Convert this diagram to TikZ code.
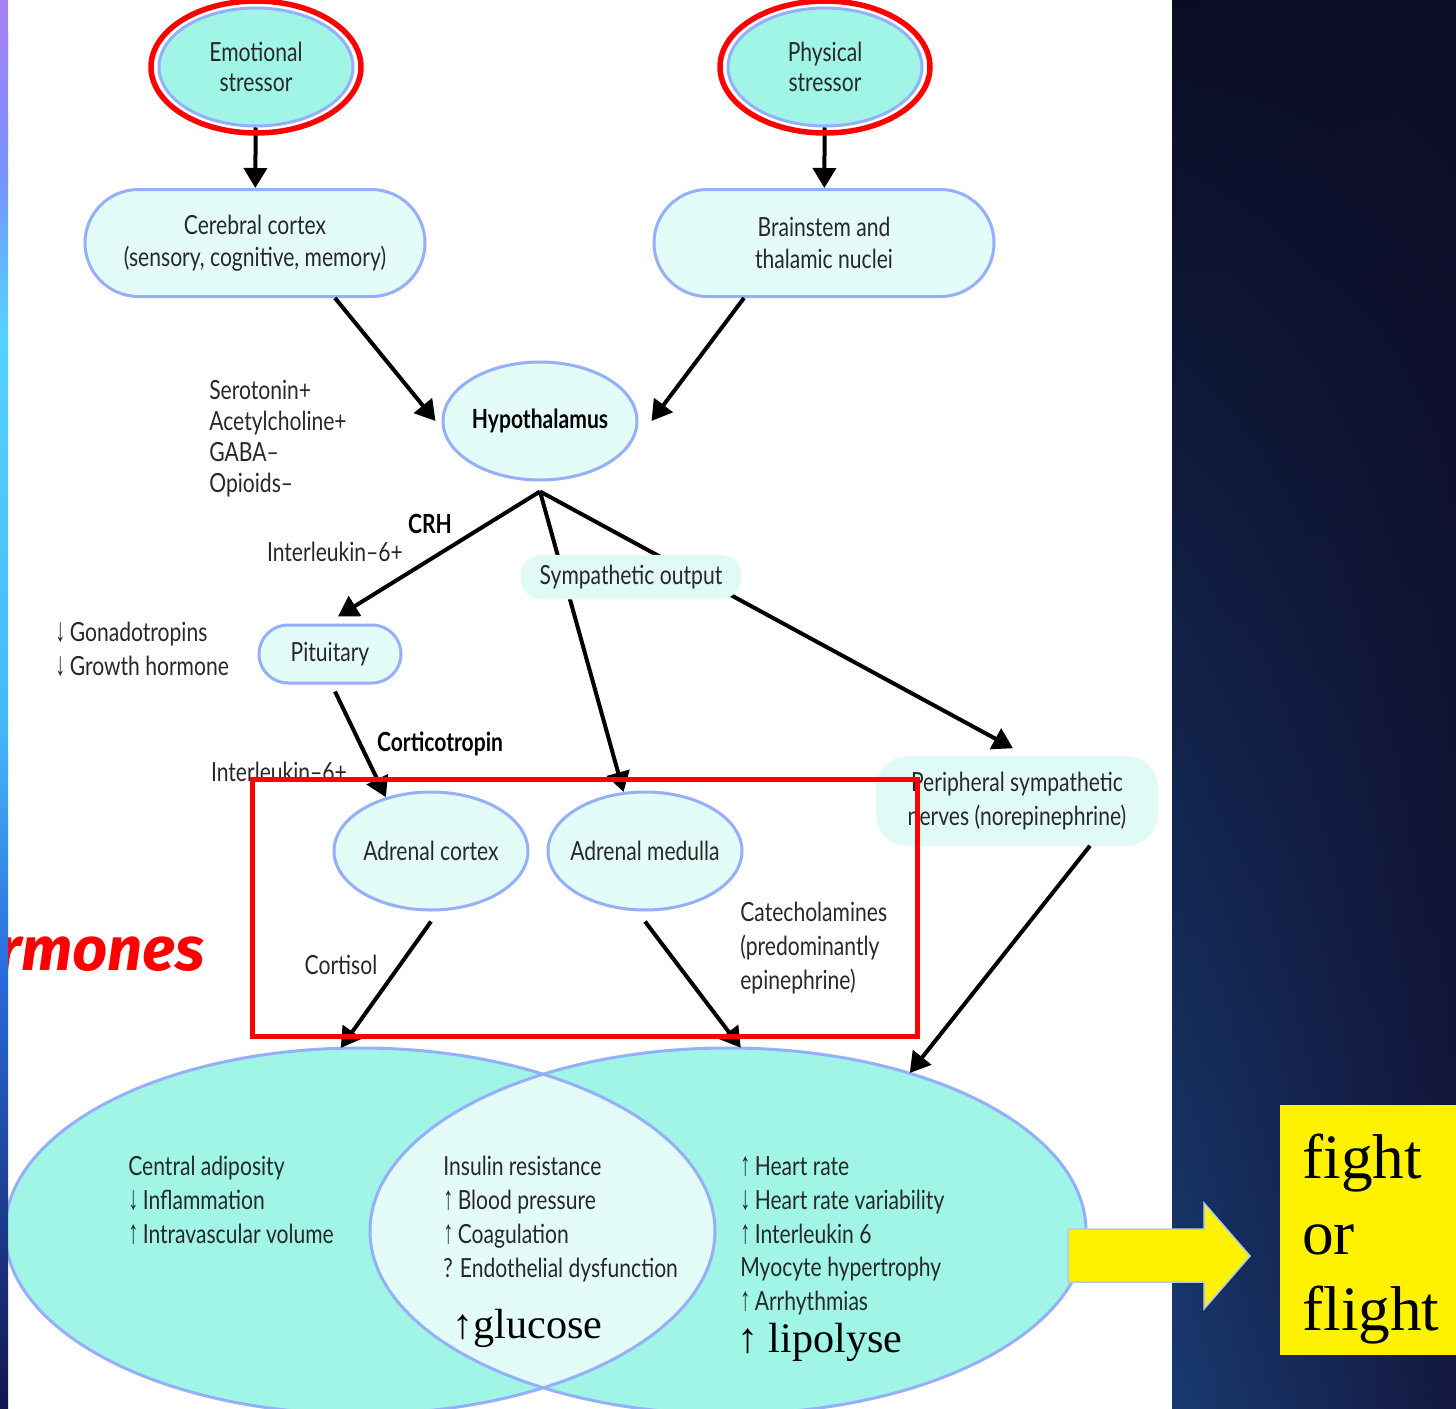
\documentclass[tikz,border=0pt]{standalone}
\usepackage{fontspec}
\setmainfont{Lato}[FakeStretch=0.8]
\newfontfamily\arrowfont{Liberation Sans}[FakeStretch=0.6]
\newfontfamily\timesfont{Liberation Serif}
\newfontfamily\slidefont{Fira Sans}
\usetikzlibrary{shapes,arrows.meta,positioning,shadings}

\definecolor{aqua}{RGB}{160,245,230}
\definecolor{paleaqua}{RGB}{227,252,248}
\definecolor{nodeblue}{RGB}{150,175,250}
\definecolor{inkgray}{RGB}{40,40,40}
\definecolor{sympfill}{RGB}{224,250,245}
\definecolor{arrowedge}{RGB}{175,205,240}
\definecolor{spacetop}{RGB}{11,12,36}
\definecolor{spacetopright}{RGB}{12,12,38}
\definecolor{spacelowleft}{RGB}{24,58,112}
\definecolor{spacelowright}{RGB}{20,24,62}
\definecolor{strippurple}{RGB}{168,128,245}
\definecolor{striplilac}{RGB}{120,145,250}
\definecolor{stripcyan}{RGB}{85,210,255}
\definecolor{stripsky}{RGB}{70,185,250}
\definecolor{stripblue}{RGB}{40,105,220}
\definecolor{stripnavy}{RGB}{18,22,75}

\newcommand{\lancetsize}{\fontsize{15pt}{19.3pt}\selectfont}
\newcommand{\arrup}{{\arrowfont\fontsize{19pt}{19.3pt}\selectfont ↑}\,}
\newcommand{\arrdown}{{\arrowfont\fontsize{19pt}{19.3pt}\selectfont ↓}\,}

\begin{document}
\begin{tikzpicture}[
    x=0.2mm, y=-0.2mm,
    font=\lancetsize,
    every node/.style={text=inkgray},
    stressor/.style={
        ellipse, draw=nodeblue, line width=0.6mm, fill=aqua,
        minimum width=38.8mm, minimum height=23.6mm,
        inner xsep=-5mm, inner ysep=0pt, align=center,
        font=\fontsize{15pt}{17pt}\selectfont
    },
    organ/.style={stressor, fill=paleaqua},
    centre/.style={
        rectangle, rounded corners=10.7mm, draw=nodeblue, line width=0.6mm,
        fill=paleaqua, minimum width=68mm, minimum height=21.4mm, align=center,
        font=\fontsize{15pt}{18.1pt}\selectfont
    },
    relay/.style={rectangle, draw=sympfill, line width=0.5mm, fill=sympfill, align=center},
    ring/.style={draw=red, line width=1.1mm},
    redbox/.style={draw=red, line width=1mm},
    flow/.style={line width=0.8mm, -{Triangle[length=4mm,width=4.6mm]}},
    note/.style={inner sep=0pt, align=left, anchor=north west},
    big/.style={font=\timesfont\fontsize{24pt}{28pt}\selectfont, text=black, inner sep=0pt},
    body/.style={ellipse, fill=aqua, minimum height=73.2mm}
    ]

    \useasboundingbox (0,0) rectangle (1456,1409);
    \fill[white] (0,0) rectangle (1456,1409);
    \shade[upper left=spacetop, upper right=spacetopright,
           lower left=spacelowleft, lower right=spacelowright] (1172,0) rectangle (1456,1409);

    % venn of the effects
    \node[body, minimum width=142mm] (bodyL) at (360,1231) {};
    \node[body, minimum width=143.2mm] (bodyR) at (728,1231) {};
    \begin{scope}
        \clip (bodyL.center) ellipse [x radius=71mm, y radius=36.6mm];
        \fill[paleaqua] (bodyR.center) ellipse [x radius=71.6mm, y radius=36.6mm];
    \end{scope}
    \draw[nodeblue, line width=0.6mm] (bodyL.center) ellipse [x radius=71mm, y radius=36.6mm];
    \draw[nodeblue, line width=0.6mm] (bodyR.center) ellipse [x radius=71.6mm, y radius=36.6mm];

    \node[stressor] (emotional) at (256,67) {Emotional\\stressor};
    \node[stressor] (physical) at (825,67) {Physical\\stressor};
    \node[centre] (cerebral) at (255,243) {Cerebral cortex\\(sensory, cognitive, memory)};
    \node[centre] (brainstem) at (824,243) {Brainstem and\\thalamic nuclei};
    \node[organ, font=\lancetsize\bfseries, text=black] (hypo) at (540,421) {Hypothalamus};
    \coordinate (hypotip) at ([yshift=-2mm]hypo.south);
    \node[centre, minimum width=28.4mm, minimum height=11.6mm, rounded corners=5.8mm] (pituitary) at (330,654) {Pituitary};
    \node[organ] (cortex) at (431,851) {Adrenal cortex};
    \node[organ] (medulla) at (645,851) {Adrenal medulla};
    \node[relay, rounded corners=6mm, minimum width=55.8mm, minimum height=17.4mm] (nerves) at (1017,801) {Peripheral sympathetic\\nerves (norepinephrine)};

    \draw[flow] (emotional) -- (cerebral);
    \draw[flow] (physical) -- (brainstem);
    \draw[ring] (emotional.center) ellipse [x radius=21mm, y radius=13.2mm];
    \draw[ring] (physical.center) ellipse [x radius=21mm, y radius=13.2mm];
    \draw[flow] ([xshift=16mm]cerebral.south) -- ([xshift=-1.2mm]hypo.west);
    \draw[flow] ([xshift=-16mm]brainstem.south) -- ([xshift=2.6mm]hypo.east);
    \draw[flow] (hypotip) -- ([xshift=1.6mm, yshift=1.4mm]pituitary.north);
    \draw[flow] (hypotip) -- (medulla.110);
    \draw[flow] (hypotip) -- ([xshift=-0.8mm, yshift=1.6mm]nerves.north);
    \node[relay, rounded corners=4mm, minimum width=43.6mm, minimum height=8.4mm] (symp) at (631,577) {Sympathetic output};
    \draw[flow] ([xshift=1mm, yshift=-1.4mm]pituitary.south) -- (cortex.130);
    \draw[flow] ([yshift=-2mm]cortex.south) -- (bodyL.96);
    \draw[flow] ([yshift=-2mm]medulla.south) -- (bodyR.86);
    \draw[flow] ([xshift=14.6mm]nerves.south) -- (bodyR.41);

    % labels
    \node[note, font=\fontsize{15pt}{17.6pt}\selectfont] (transmitters) at (209,380) {Serotonin+\\Acetylcholine+\\GABA–\\Opioids–};
    \node[font=\lancetsize\bfseries, text=black] (crh) at (430,524) {CRH};
    \node (ilupper) at (335,552) {Interleukin–6+};
    \node[note] (pituitaryfx) at (55,622) {\arrdown Gonadotropins\\\arrdown Growth hormone};
    \node[font=\lancetsize\bfseries, text=black] (corticotropin) at (440,744) {Corticotropin};
    \node (illower) at (279,772) {Interleukin–6+};
    \node (cortisol) at (341,965) {Cortisol};
    \node[note] (catechol) at (740,902) {Catecholamines\\(predominantly\\epinephrine)};

    \node[note] (cortisolfx) at (128,1156) {Central adiposity\\\arrdown Inflammation\\\arrup Intravascular volume};
    \node[note] (sharedfx) at (443,1156) {Insulin resistance\\\arrup Blood pressure\\\arrup Coagulation\\? Endothelial dysfunction};
    \node[note] (catecholfx) at (740,1156) {\arrup Heart rate\\\arrdown Heart rate variability\\\arrup Interleukin 6\\Myocyte hypertrophy\\\arrup Arrhythmias};
    \node[big, anchor=base west] (glucose) at (452,1338) {↑glucose};
    \node[big, anchor=base west] (lipolyse) at (737,1352) {↑ lipolyse};

    \draw[redbox] (252,779) rectangle (917,1036);
    \node[font=\slidefont\fontsize{35pt}{40pt}\selectfont\bfseries\itshape, text=red, anchor=base east, inner sep=0pt] (hormones) at (205,970) {rmones};

    % slide edge
    \shade[top color=strippurple, bottom color=striplilac] (0,0) rectangle (8,170);
    \shade[top color=striplilac, bottom color=stripcyan] (0,170) rectangle (8,330);
    \shade[top color=stripcyan, bottom color=stripsky] (0,330) rectangle (8,720);
    \shade[top color=stripsky, bottom color=stripblue] (0,720) rectangle (8,980);
    \shade[top color=stripblue, bottom color=stripnavy] (0,980) rectangle (8,1409);

    % fight or flight
    \fill[yellow, draw=arrowedge, line width=0.3mm] (1068,1229) -- (1204,1229) -- (1204,1203) -- (1250,1256)
        -- (1204,1309) -- (1204,1282) -- (1068,1282) -- cycle;
    \node[fill=yellow, anchor=north west, minimum width=35.2mm, minimum height=50mm, inner sep=0pt] (fightbox) at (1280,1105) {};
    \node[note, font=\timesfont\fontsize{36pt}{43pt}\selectfont, text=black] (fight) at (1302,1134) {fight\\or\\flight};
\end{tikzpicture}
\end{document}
